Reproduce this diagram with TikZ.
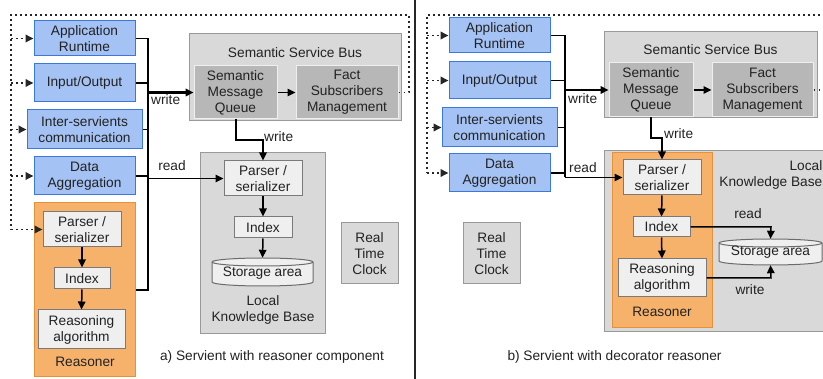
\documentclass[tikz,border=0pt]{standalone}
\usepackage{fontspec}
\setmainfont{Liberation Sans}
\usetikzlibrary{arrows.meta}
\definecolor{bluefill}{HTML}{A4C2F4}
\definecolor{blueline}{HTML}{3C78D8}
\definecolor{orfill}{HTML}{F6B26B}
\definecolor{orline}{HTML}{E69138}
\definecolor{grfill}{HTML}{D9D9D9}
\definecolor{grline}{HTML}{999999}
\definecolor{dkfill}{HTML}{B7B7B7}
\definecolor{ltfill}{HTML}{EFEFEF}
\definecolor{txt}{HTML}{222222}
\begin{document}
\begin{tikzpicture}[x=1pt,y=-1pt,
  every node/.style={font=\fontsize{13.7}{16}\selectfont, align=center, inner sep=1pt, text=txt},
  bluebox/.style={draw=blueline, fill=bluefill, line width=1pt},
  orbox/.style={draw=orline, fill=orfill, line width=1pt},
  graybox/.style={draw=grline, fill=grfill, line width=1pt},
  darkbox/.style={draw=ltfill, fill=dkfill, line width=1pt},
  lightbox/.style={draw=grline!80!black, fill=ltfill, line width=1pt},
  plain/.style={},
  conn/.style={draw=black, line width=1.5pt},
  thickconn/.style={draw=black, line width=2.2pt},
  arr/.style={-{Triangle[length=8pt,width=7.5pt]}},
  dots/.style={draw=black!85, line width=1.8pt, dash pattern=on 1.8pt off 3.2pt},
  cyl/.style={draw=grline!70!black, fill=ltfill, line width=1pt}
]
\clip (0,0) rectangle (823,379);
\fill[white] (0,0) rectangle (823,379);

% ================= LEFT PANEL =================
\node[graybox, minimum width=212, minimum height=87] (ssbL) at (295,77.5) {};
\node[plain] (ssbLt) at (295,53) {Semantic Service Bus};
\node[darkbox, minimum width=83, minimum height=53] (smqL) at (235.5,92.5) {Semantic\\Message\\Queue};
\node[darkbox, minimum width=102, minimum height=53] (fsmL) at (347,92.5) {Fact\\Subscribers\\Management};

\node[graybox, minimum width=125, minimum height=181] (kbL) at (262.5,243.5) {};
\node[lightbox, minimum width=78, minimum height=35] (parKL) at (263,178.5) {Parser /\\serializer};
\node[lightbox, minimum width=58, minimum height=21] (idxKL) at (263,227.5) {Index};
\draw[cyl] (212,262) -- (212,282) arc[start angle=180,end angle=0,x radius=50.5,y radius=4] -- (313,262) arc[start angle=0,end angle=-180,x radius=50.5,y radius=4] -- cycle;
\draw[cyl, fill=none] (212,262) arc[start angle=180,end angle=0,x radius=50.5,y radius=4];
\node[plain, minimum width=101, minimum height=30] (stL) at (262.5,273) {Storage area};
\node[plain] (kbLt) at (263,310) {Local\\Knowledge Base};

\node[graybox, minimum width=57, minimum height=61] (rtcL) at (369.5,253.5) {Real\\Time\\Clock};

\node[bluebox, minimum width=101, minimum height=35] (appL) at (84.5,38.5) {Application\\Runtime};
\node[bluebox, minimum width=101, minimum height=38] (ioL) at (84.5,83) {Input/Output};
\node[bluebox, minimum width=115, minimum height=39] (intL) at (84.5,129.5) {Inter-servients\\communication};
\node[bluebox, minimum width=101, minimum height=38] (datL) at (84.5,176) {Data\\Aggregation};

\node[orbox, minimum width=101, minimum height=174] (reaL) at (84.5,290) {};
\node[lightbox, minimum width=78, minimum height=35] (parL) at (82,229.5) {Parser /\\serializer};
\node[lightbox, minimum width=56, minimum height=21] (idxL) at (82,278.5) {Index};
\node[lightbox, minimum width=87, minimum height=39] (algL) at (81.5,329.5) {Reasoning\\algorithm};
\node[plain] (reaLt) at (85,362) {Reasoner};

\node[plain] (capL) at (272,357) {a) Servient with reasoner component};

% bus
\coordinate (busLt) at (148,38.5);
\coordinate (busLb) at (148,290);
\draw[conn] (appL.east) -- (busLt) -- (busLb) -- (reaL.east);
\draw[conn] (ioL.east) -- (ioL.east -| busLt);
\draw[conn] (intL.east) -- (intL.east -| busLt);
\draw[conn] (datL.east) -- (datL.east -| busLt);
\draw[thickconn, arr] (smqL.west -| busLt) -- (smqL.west);
\node[plain, anchor=west] (wL1) at (150,100) {write};
\draw[conn, arr] (busLt |- parKL.west) -- (parKL.west);
\node[plain] (rL1) at (172,166) {read};
\draw[conn, arr] (smqL.east) -- (fsmL.west);
\coordinate (wbL) at (236,140);
\draw[conn, arr] (smqL.south -| wbL) -- (wbL) -- (wbL -| parKL.north) -- (parKL.north);
\node[plain, anchor=west] (wL2) at (263,137) {write};
\draw[conn, arr] (parKL.south) -- (idxKL.north);
\draw[conn, arr] (idxKL.south) -- (stL.north);
\draw[conn, arr] (parL.south) -- (idxL.north);
\draw[conn, arr] (idxL.south) -- (algL.north);

% dotted loop
\coordinate (dL1) at (409,92.5);
\coordinate (dL2) at (409,15);
\coordinate (dL3) at (11,15);
\coordinate (dL4) at (11,229.5);
\draw[dots] (fsmL.east) -- (dL1) -- (dL2) -- (dL3) -- (dL4);
\draw[dots, arr] (dL4) -- (parL.west);
\draw[dots, arr] (dL3 |- appL.west) -- (appL.west);
\draw[dots, arr] (dL3 |- ioL.west) -- (ioL.west);
\draw[dots, arr] (dL3 |- intL.west) -- (intL.west);
\draw[dots, arr] (dL3 |- datL.west) -- (datL.west);

% divider
\coordinate (divT) at (415,0);
\coordinate (divB) at (415,379);
\draw[line width=1.4pt, draw=black!85] (divT) -- (divB);

% ================= RIGHT PANEL =================
\node[graybox, minimum width=213, minimum height=86] (ssbR) at (710.5,75) {};
\node[plain] (ssbRt) at (710.5,50) {Semantic Service Bus};
\node[darkbox, minimum width=84, minimum height=54] (smqR) at (651,90) {Semantic\\Message\\Queue};
\node[darkbox, minimum width=101, minimum height=54] (fsmR) at (762.5,90) {Fact\\Subscribers\\Management};

\node[graybox, minimum width=236, minimum height=181, anchor=north west] (kbR) at (604,150) {};
\node[plain, anchor=north east, align=right] (kbRt) at (823.5,159) {Local\\Knowledge Base};
\node[orbox, minimum width=100, minimum height=175] (reaR) at (662,240.5) {};
\node[lightbox, minimum width=78, minimum height=35] (parR) at (662,177.5) {Parser /\\serializer};
\node[lightbox, minimum width=57, minimum height=20] (idxR) at (661.5,227) {Index};
\node[lightbox, minimum width=88, minimum height=38] (algR) at (662,278) {Reasoning\\algorithm};
\node[plain] (reaRt) at (662,312) {Reasoner};

\draw[cyl] (719,243) -- (719,261) arc[start angle=180,end angle=0,x radius=51.5,y radius=4] -- (822,243) arc[start angle=0,end angle=-180,x radius=51.5,y radius=4] -- cycle;
\draw[cyl, fill=none] (719,243) arc[start angle=180,end angle=0,x radius=51.5,y radius=4];
\node[plain, minimum width=103, minimum height=26] (stR) at (770.5,252) {Storage area};

\node[graybox, minimum width=57, minimum height=61] (rtcR) at (491.5,253.5) {Real\\Time\\Clock};

\node[bluebox, minimum width=101, minimum height=35] (appR) at (499.5,35.5) {Application\\Runtime};
\node[bluebox, minimum width=101, minimum height=37] (ioR) at (499.5,80.5) {Input/Output};
\node[bluebox, minimum width=115, minimum height=39] (intR) at (499.5,127.5) {Inter-servients\\communication};
\node[bluebox, minimum width=101, minimum height=38] (datR) at (499.5,173) {Data\\Aggregation};

\node[plain] (capR) at (614.5,357) {b) Servient with decorator reasoner};

% bus
\coordinate (busRt) at (565,35.5);
\coordinate (busRb) at (565,177.5);
\draw[conn] (appR.east) -- (busRt) -- (busRb);
\draw[conn] (ioR.east) -- (ioR.east -| busRt);
\draw[conn] (intR.east) -- (intR.east -| busRt);
\draw[conn] (datR.east) -- (datR.east -| busRt);
\draw[thickconn, arr] (smqR.west -| busRt) -- (smqR.west);
\node[plain, anchor=west] (wR1) at (567,99) {write};
\draw[conn, arr] (busRb) -- (parR.west);
\node[plain, anchor=west] (rR1) at (568,168) {read};
\draw[conn, arr] (smqR.east) -- (fsmR.west);
\coordinate (wbR) at (651,138);
\draw[conn, arr] (smqR.south) -- (wbR) -- (wbR -| parR.north) -- (parR.north);
\node[plain, anchor=west] (wR2) at (663,134) {write};
\draw[conn, arr] (parR.south) -- (idxR.north);
\draw[conn, arr] (idxR.south) -- (algR.north);
\coordinate (sR1) at (771,227);
\coordinate (sR2) at (771,278);
\draw[conn, arr] (idxR.east) -- (sR1) -- (stR.north);
\draw[conn, arr] (algR.east) -- (sR2) -- (stR.south);
\node[plain] (rR2) at (748,214) {read};
\node[plain] (wR3) at (750,290) {write};

% dotted loop
\coordinate (dR1) at (830,90);
\coordinate (dR2) at (830,15);
\coordinate (dR3) at (427,15);
\coordinate (dR4) at (427,173);
\draw[dots] (fsmR.east) -- (dR1);
\draw[dots] (dR2) -- (dR3) -- (dR4);
\draw[dots, arr] (dR3 |- appR.west) -- (appR.west);
\draw[dots, arr] (dR3 |- ioR.west) -- (ioR.west);
\draw[dots, arr] (dR3 |- intR.west) -- (intR.west);
\draw[dots, arr] (dR4) -- (datR.west);
\end{tikzpicture}
\end{document}
